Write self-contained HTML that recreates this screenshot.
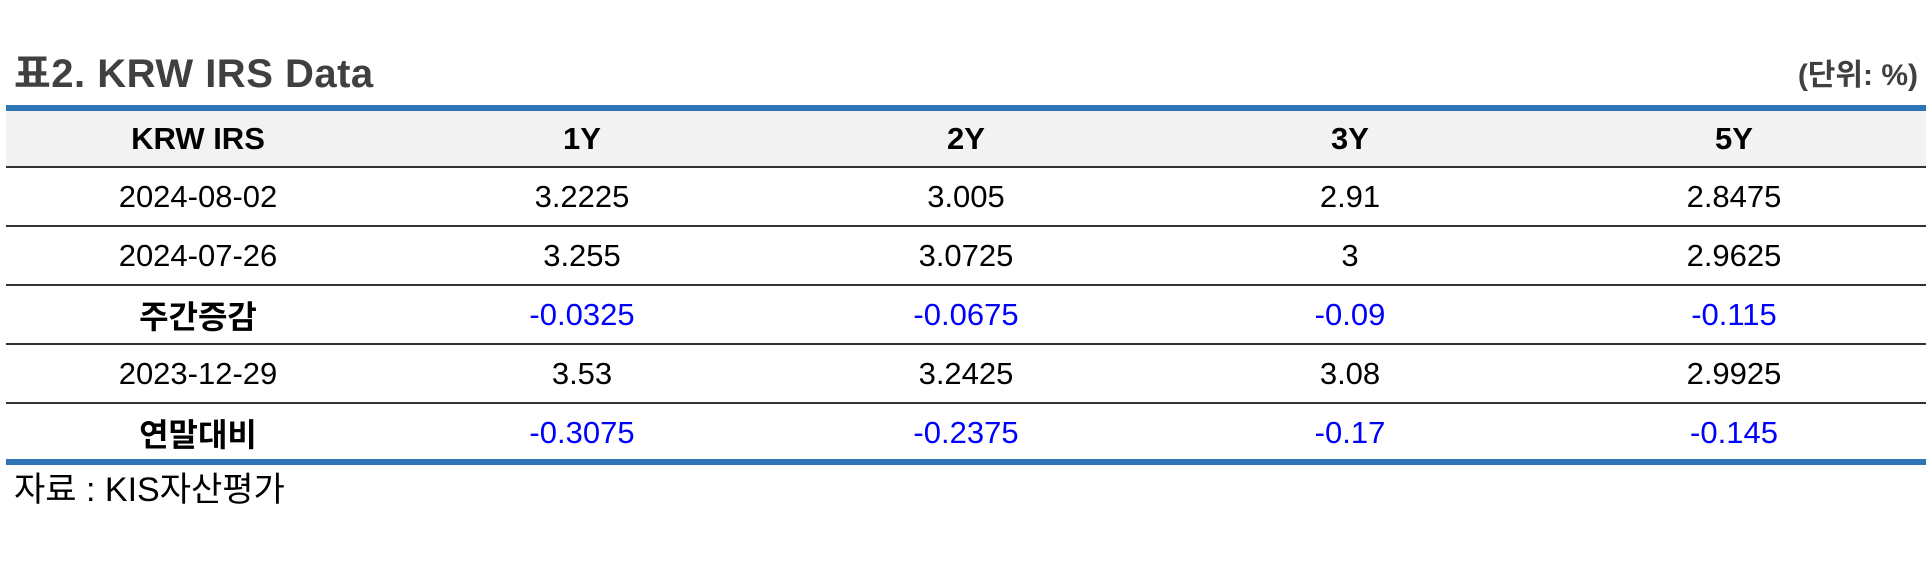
<!DOCTYPE html>
<html><head><meta charset="utf-8"><style>
html,body{margin:0;padding:0;background:#fff;width:1930px;height:564px;overflow:hidden;font-family:"Liberation Sans","Noto Sans CJK KR",sans-serif;}
.title{position:absolute;left:14px;top:51px;font-size:40px;font-weight:bold;color:#404040;line-height:46px;letter-spacing:0.5px;}
.unit{position:absolute;right:12px;top:56px;font-size:30px;font-weight:bold;color:#404040;line-height:40px;}
.bar{position:absolute;left:6px;width:1920px;height:6px;background:#2e75b6;}
table{position:absolute;left:6px;top:111px;width:1920px;border-collapse:collapse;table-layout:fixed;}
td,th{text-align:center;font-size:31px;color:#000;padding:0;}
th{background:#f2f2f2;height:55px;font-weight:bold;border-bottom:2px solid #333;font-size:31px;}
td{height:57px;border-bottom:2px solid #333;}
tr:last-child td{border-bottom:none;}
.b{font-weight:bold;font-size:32px;}
.neg{color:#0000ff;}
.src{position:absolute;left:14px;top:469px;font-size:34px;color:#000;line-height:42px;}
</style></head><body>
<div class="title">표2. KRW IRS Data</div>
<div class="unit">(단위: %)</div>
<div class="bar" style="top:105px"></div>
<table>
<tr><th>KRW IRS</th><th>1Y</th><th>2Y</th><th>3Y</th><th>5Y</th></tr>
<tr><td>2024-08-02</td><td>3.2225</td><td>3.005</td><td>2.91</td><td>2.8475</td></tr>
<tr><td>2024-07-26</td><td>3.255</td><td>3.0725</td><td>3</td><td>2.9625</td></tr>
<tr><td class="b">주간증감</td><td class="neg">-0.0325</td><td class="neg">-0.0675</td><td class="neg">-0.09</td><td class="neg">-0.115</td></tr>
<tr><td>2023-12-29</td><td>3.53</td><td>3.2425</td><td>3.08</td><td>2.9925</td></tr>
<tr><td class="b">연말대비</td><td class="neg">-0.3075</td><td class="neg">-0.2375</td><td class="neg">-0.17</td><td class="neg">-0.145</td></tr>
</table>
<div class="bar" style="top:459px"></div>
<div class="src">자료 : KIS자산평가</div>
</body></html>
